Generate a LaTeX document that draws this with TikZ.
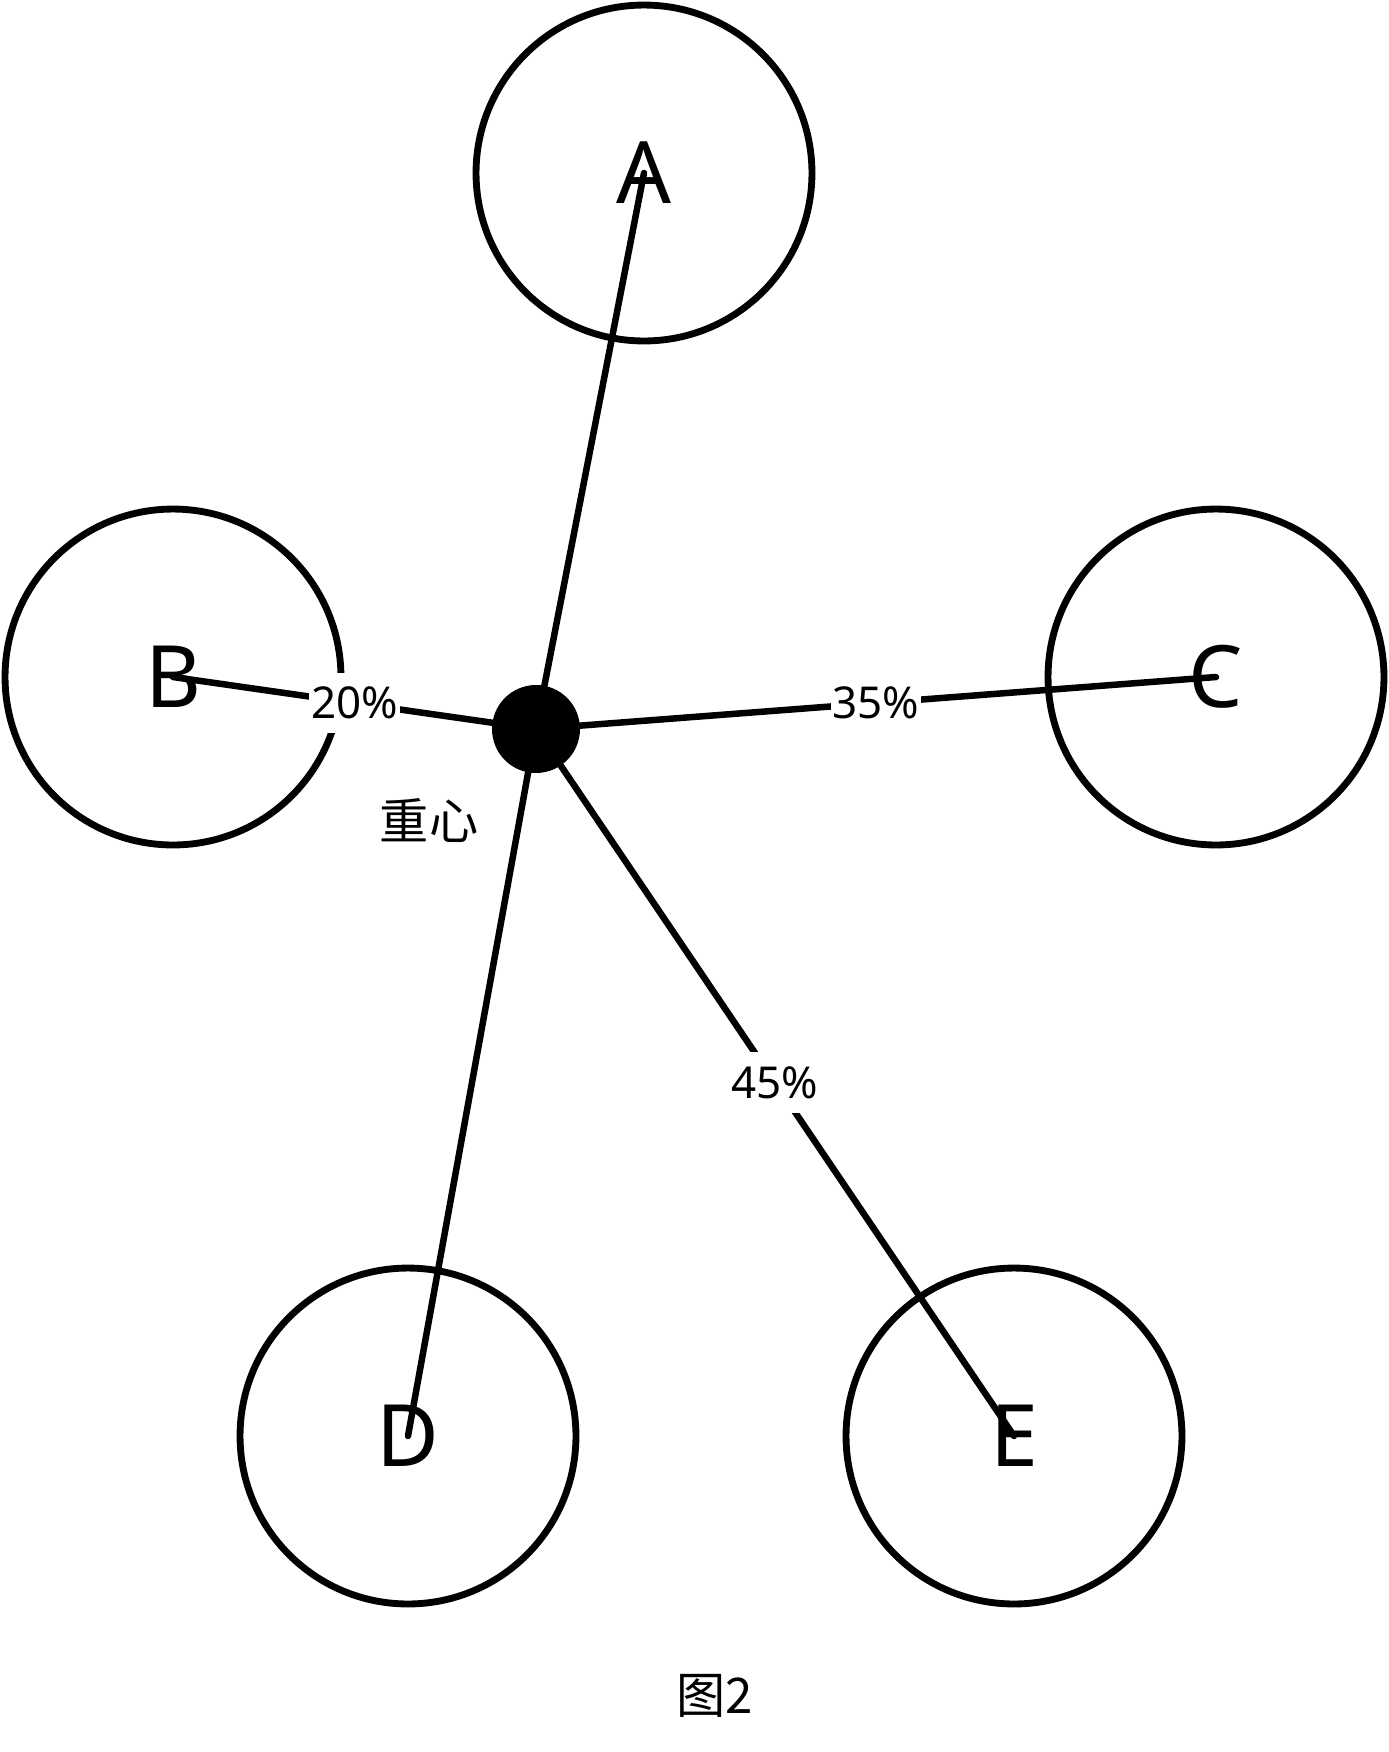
\documentclass[tikz,border=0pt]{standalone}
\usepackage{fontspec}
\setmainfont{Noto Sans}
\newfontfamily\cjk{Noto Sans CJK SC}
\tikzset{
  ring/.style={circle, draw, line width=3.9pt, minimum size=6.72cm, inner sep=0pt,
    font=\fontsize{49}{49}\selectfont},
  arm/.style={line width=3.7pt, line cap=round},
  share/.style={fill=white, inner xsep=1pt, inner ysep=8pt,
    font=\fontsize{25}{25}\selectfont},
  hub/.style={circle, fill=black, minimum size=1.76cm, inner sep=0pt},
  cjktext/.style={font={\cjk\fontsize{28}{28}\selectfont}}
}

\begin{document}
\begin{tikzpicture}[x=0.02cm, y=-0.02cm, line join=round]
  \useasboundingbox (0,0) rectangle (1389,1752);

  % The five sites
  \node[ring] (A) at (644,173) {A};
  \node[ring] (B) at (173,677) {B};
  \node[ring] (C) at (1216,677) {C};
  \node[ring] (D) at (408,1436) {D};
  \node[ring] (E) at (1014,1436) {E};

  % Centre of gravity
  \coordinate (G) at (536,729);

  % Arms from the centre to each site, shares at the middle
  \draw[arm] (G) -- (A.center);
  \draw[arm] (G) -- node[share] {20\%} (B.center);
  \draw[arm] (G) -- node[share] {35\%} (C.center);
  \draw[arm] (G) -- (D.center);
  \draw[arm] (G) -- node[share] {45\%} (E.center);

  \node[hub] (hub) at (G) {};
  \node[cjktext] (hublabel) at (429,820) {重心};

  % Caption
  \node[cjktext] (caption) at (715,1696) {图2};
\end{tikzpicture}
\end{document}
